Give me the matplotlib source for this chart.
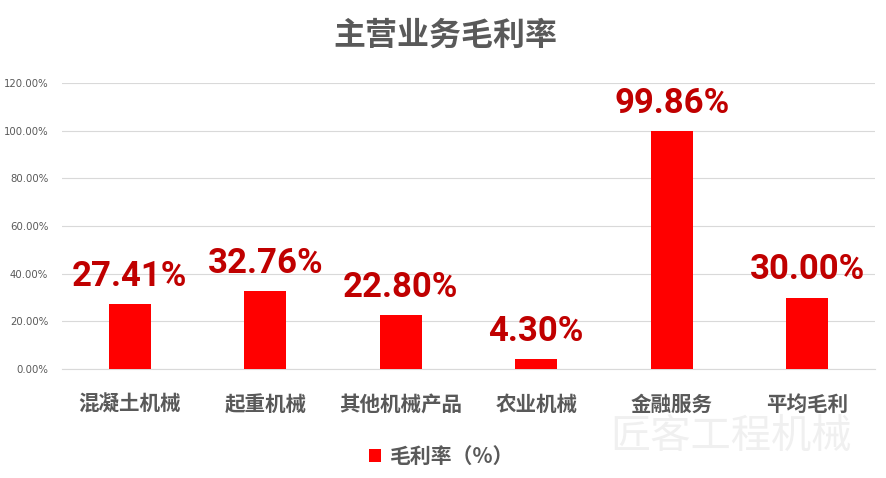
import matplotlib
matplotlib.use("Agg")
import matplotlib.pyplot as plt
from matplotlib.ticker import FuncFormatter, MultipleLocator

categories = ["混凝土机械", "起重机械", "其他机械产品", "农业机械", "金融服务", "平均毛利"]
values = [27.41, 32.76, 22.80, 4.30, 99.86, 30.00]
title = "主营业务毛利率"
legend_label = "毛利率（%）"

CJK = ["Noto Sans CJK SC", "DejaVu Sans"]
plt.rcParams['font.family'] = CJK

fig = plt.figure(figsize=(8.86, 4.78), dpi=100)
ax = fig.add_axes([0.070, 0.228, 0.9176, 0.598])

x = list(range(len(categories)))
bars = ax.bar(x, [v / 100 for v in values], width=0.31, color="#FF0000", label=legend_label, zorder=3)

ax.set_xlim(-0.5, len(categories) - 0.5)
ax.set_ylim(0, 1.2)
ax.yaxis.set_major_locator(MultipleLocator(0.2))
ax.yaxis.set_major_formatter(FuncFormatter(lambda v, p: f"{v*100:.2f}%"))
ax.grid(axis="y", color="#D9D9D9", linewidth=0.8, zorder=0)
for s in ["top", "right", "left"]:
    ax.spines[s].set_visible(False)
ax.spines["bottom"].set_color("#D9D9D9")
ax.tick_params(axis="y", length=0, labelsize=7.3, labelcolor="#595959", pad=10)
ax.tick_params(axis="x", length=0, pad=18)
ax.set_xticks(x)
ax.set_xticklabels(categories, fontsize=14.8, fontweight="bold", color="#595959")
for lbl in ax.get_yticklabels():
    lbl.set_family(["DejaVu Sans"])

for xi, v in zip(x, values):
    ax.annotate(f"{v:.2f}%", (xi, v / 100), xytext=(0, 13), textcoords="offset points",
                ha="center", va="baseline", fontsize=25, fontweight="bold",
                color="#C00000", family=["Roboto", "DejaVu Sans"])

fig.text(0.503, 0.925, title, ha="center", va="center", fontsize=23,
         fontweight="bold", color="#595959")

# watermark
fig.text(0.825, 0.086, "匠客工程机械", ha="center", va="center", fontsize=29,
         color="#F0F0F0", zorder=0)

leg = fig.legend(handles=[bars], labels=[legend_label], loc="center",
                 bbox_to_anchor=(0.498, 0.046), frameon=False, fontsize=15,
                 handlelength=0.6, handleheight=0.6, handletextpad=0.4)
for t in leg.get_texts():
    t.set_color("#595959")
    t.set_fontweight("bold")

fig.savefig("out.png", dpi=100)
